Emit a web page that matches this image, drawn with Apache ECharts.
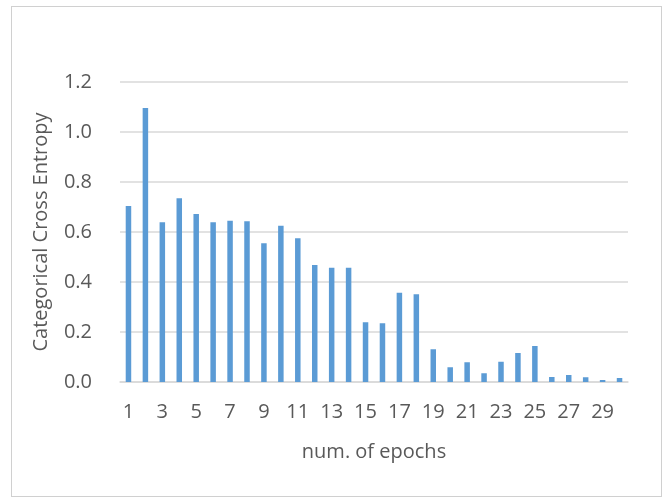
<!DOCTYPE html>
<html>
<head>
<meta charset="utf-8">
<script src="https://cdn.jsdelivr.net/npm/echarts@6/dist/echarts.min.js"></script>
<style>
html,body{margin:0;padding:0;background:#fff;}
#frame{position:absolute;left:11px;top:6px;width:649px;height:489px;border:1.5px solid #d0d0d0;}
#chart{position:absolute;left:0;top:0;width:666px;height:498px;}
</style>
</head>
<body>
<div id="frame"></div>
<div id="chart"></div>
<script>
const epochs = ["1","2","3","4","5","6","7","8","9","10","11","12","13","14","15","16","17","18","19","20","21","22","23","24","25","26","27","28","29","30"];
const crossEntropy = [0.704,1.096,0.639,0.735,0.672,0.639,0.645,0.643,0.555,0.625,0.575,0.468,0.457,0.457,0.239,0.235,0.357,0.351,0.131,0.059,0.079,0.035,0.081,0.116,0.144,0.020,0.028,0.019,0.008,0.016];
const yTicks = [0,0.2,0.4,0.6,0.8,1.0,1.2];

const FONT = "Open Sans";
const FS = 20;
const chart = echarts.init(document.getElementById('chart'), null, {renderer:'canvas'});
chart.setOption({
  animation:false,
  backgroundColor:'transparent',
  grid:{left:120,right:38,top:82,bottom:116,containLabel:false},
  xAxis:{
    type:'category',
    data:epochs,
    name:'num. of epochs',
    nameLocation:'middle',
    nameGap:60,
    nameTextStyle:{color:'#595959',fontSize:FS,fontFamily:FONT},
    axisLine:{show:true,lineStyle:{color:'#d9d9d9',width:1.5}},
    axisTick:{show:false},
    axisLabel:{interval:1,margin:20,color:'#595959',fontSize:FS,fontFamily:FONT},
    boundaryGap:true
  },
  yAxis:{
    type:'value',
    min:yTicks[0],
    max:yTicks[yTicks.length-1],
    interval:0.2,
    name:'Categorical Cross Entropy',
    nameLocation:'middle',
    nameGap:69,
    nameTextStyle:{color:'#595959',fontSize:FS,fontFamily:FONT},
    axisLine:{show:false},
    axisTick:{show:false},
    splitLine:{show:true,lineStyle:{color:'#d9d9d9',width:1.5}},
    axisLabel:{margin:28,color:'#595959',fontSize:FS,fontFamily:FONT,formatter:v=>v.toFixed(1)}
  },
  series:[{
    type:'bar',
    data:crossEntropy,
    barWidth:5.5,
    itemStyle:{color:'#5b9bd5'}
  }]
});
</script>
</body>
</html>
